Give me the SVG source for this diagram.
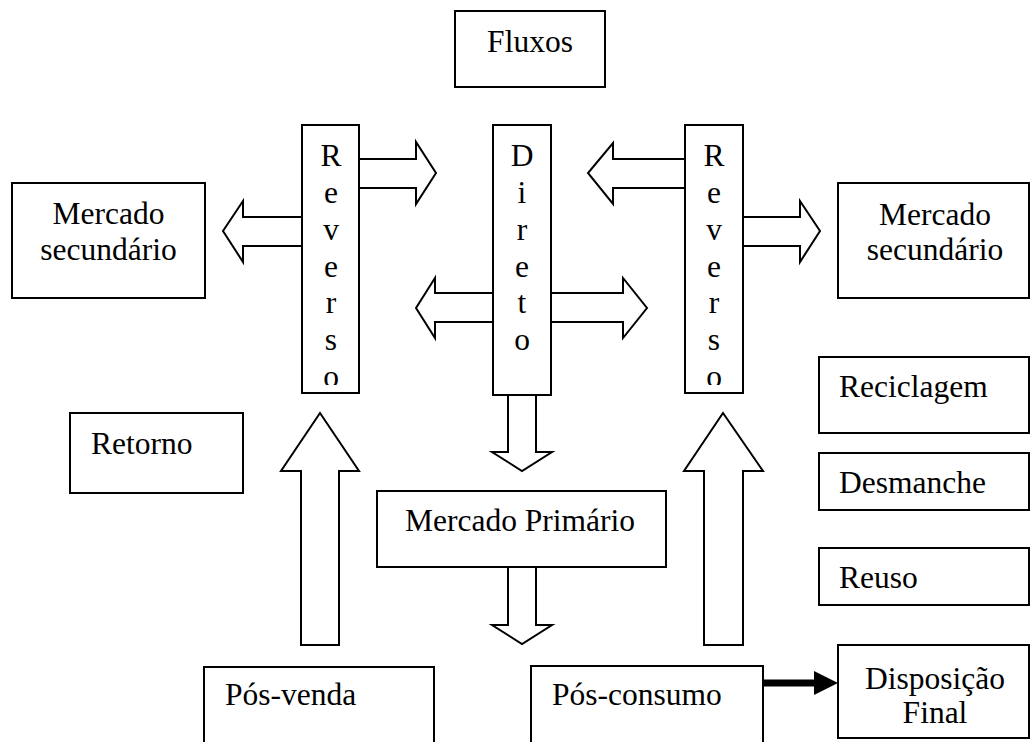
<svg xmlns="http://www.w3.org/2000/svg" width="1030" height="742" viewBox="0 0 1030 742">
<style>
.box{fill:#fff;stroke:#000;stroke-width:2}
.arr{fill:#fff;stroke:#000;stroke-width:2;stroke-linejoin:miter}
text{font-family:"Liberation Serif","Times New Roman",serif;font-size:31.5px;fill:#000}
.c{text-anchor:middle}
</style>
<defs>
<clipPath id="clipL"><rect x="300" y="125" width="62" height="260"/></clipPath>
<clipPath id="clipR"><rect x="683" y="125" width="62" height="260"/></clipPath>
</defs>
<g id="connectors">
<polygon class="arr" points="359,159 416,159 416,142 436,173 416,204 416,188 359,188"/>
<polygon class="arr" points="302,217 243,217 243,201 223,231 243,262 243,246 302,246"/>
<polygon class="arr" points="685,159 613,159 613,143 588,173 613,204 613,188 685,188"/>
<polygon class="arr" points="551,293 623,293 623,278 647,308 623,338 623,322 551,322"/>
<polygon class="arr" points="493,293 435,293 435,278 416,308 435,338 435,322 493,322"/>
<polygon class="arr" points="743,217 800,217 800,201 820,231 800,262 800,246 743,246"/>
<polygon class="arr" points="508,395 508,452 492,452 522,471 552,452 536,452 536,395"/>
<polygon class="arr" points="508,567 508,625 492,625 522,644 552,625 536,625 536,567"/>
<polygon class="arr" points="301,645 301,471 281,471 320,413 359,471 339,471 339,645"/>
<polygon class="arr" points="704,645 704,471 684,471 723,413 763,471 743,471 743,645"/>
<line x1="763" y1="683" x2="817" y2="683" stroke="#000" stroke-width="7"/>
<polygon points="814,671 838,683 814,695" fill="#000"/>
</g>
<g id="fluxos">
<rect class="box" x="455" y="11" width="150" height="76"/>
<text class="c" x="530" y="52">Fluxos</text>
</g>
<g id="reverso-esq">
<rect class="box" x="302" y="125" width="57" height="268"/>
<g clip-path="url(#clipL)">
<text class="c" x="331" y="166">R</text>
<text class="c" x="331" y="203">e</text>
<text class="c" x="331" y="240">v</text>
<text class="c" x="331" y="277">e</text>
<text class="c" x="331" y="313">r</text>
<text class="c" x="331" y="350">s</text>
<text class="c" x="331" y="387">o</text>
</g>
</g>
<g id="direto">
<rect class="box" x="493" y="125" width="58" height="270"/>
<text class="c" x="522" y="166">D</text>
<text class="c" x="522" y="203">i</text>
<text class="c" x="522" y="240">r</text>
<text class="c" x="522" y="277">e</text>
<text class="c" x="522" y="313">t</text>
<text class="c" x="522" y="350">o</text>
</g>
<g id="reverso-dir">
<rect class="box" x="685" y="125" width="58" height="268"/>
<g clip-path="url(#clipR)">
<text class="c" x="714" y="166">R</text>
<text class="c" x="714" y="203">e</text>
<text class="c" x="714" y="240">v</text>
<text class="c" x="714" y="277">e</text>
<text class="c" x="714" y="313">r</text>
<text class="c" x="714" y="350">s</text>
<text class="c" x="714" y="387">o</text>
</g>
</g>
<g id="mercado-sec-esq">
<rect class="box" x="12" y="183" width="193" height="115"/>
<text class="c" x="108.5" y="224">Mercado</text>
<text class="c" x="108.5" y="260">secundário</text>
</g>
<g id="mercado-sec-dir">
<rect class="box" x="838" y="183" width="191" height="115"/>
<text class="c" x="935" y="225">Mercado</text>
<text class="c" x="935" y="260">secundário</text>
</g>
<g id="retorno">
<rect class="box" x="70" y="413" width="173" height="80"/>
<text x="91" y="454">Retorno</text>
</g>
<g id="mercado-primario">
<rect class="box" x="377" y="491" width="289" height="76"/>
<text x="405" y="531">Mercado Primário</text>
</g>
<g id="reciclagem">
<rect class="box" x="819" y="357" width="210" height="76"/>
<text x="839" y="397">Reciclagem</text>
</g>
<g id="desmanche">
<rect class="box" x="819" y="453" width="210" height="57"/>
<text x="839" y="493">Desmanche</text>
</g>
<g id="reuso">
<rect class="box" x="819" y="548" width="210" height="57"/>
<text x="839" y="588">Reuso</text>
</g>
<g id="pos-venda">
<rect class="box" x="204" y="667" width="230" height="90"/>
<text x="225" y="705">Pós-venda</text>
</g>
<g id="pos-consumo">
<rect class="box" x="531" y="666" width="232" height="90"/>
<text x="552" y="705">Pós-consumo</text>
</g>
<g id="disposicao-final">
<rect class="box" x="838" y="645" width="191" height="93"/>
<text class="c" x="935" y="689">Disposição</text>
<text class="c" x="935" y="723">Final</text>
</g>
</svg>
